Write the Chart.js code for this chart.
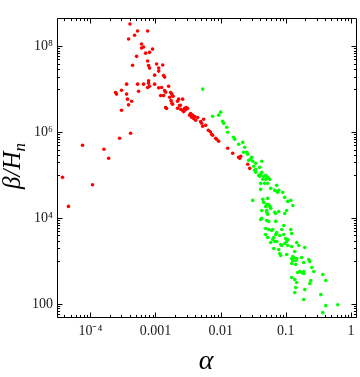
<!DOCTYPE html>
<html>
<head>
<meta charset="utf-8">
<script src="https://cdn.jsdelivr.net/npm/chart.js@4.4.1/dist/chart.umd.min.js"></script>
<style>
  html, body { margin: 0; padding: 0; background: #ffffff; }
  #wrap { width: 360px; height: 377px; position: relative; }
  canvas { display: block; }
</style>
</head>
<body>
<div id="wrap"><canvas id="c" width="360" height="377"></canvas></div>
<script>
// ---- data ----
const redAlpha = [4.06e-4,7.57e-4,5.31e-4,4.78e-4,3.86e-4,6.11e-4,6.56e-4,6.11e-4,9.0e-4,8.1e-4,
  7.05e-4,5.13e-4,7.57e-4,1.04e-3,1.29e-3,4.45e-4,7.83e-4,1.12e-3,8.1e-4,1.12e-3,
  9.7e-4,1.33e-3,1.38e-3,7.83e-4,7.83e-4,3.6e-4,5.31e-4,6.56e-4,9.7e-4,8.1e-4,
  1.59e-3,7.57e-4,1.12e-3,1.24e-3,1.38e-3,3.01e-4,5.5e-4,1.43e-3,2.44e-4,2.52e-4,
  3.6e-4,1.71e-3,1.20e-3,1.33e-3,1.77e-3,1.86e-3,1.65e-3,3.72e-4,2.26e-3,2.61e-3,
  1.73e-3,4.3e-4,2.18e-3,1.79e-3,1.83e-3,3.86e-4,2.34e-3,1.43e-3,1.48e-3,2.97e-3,
  3.11e-3,2.18e-3,2.43e-3,3.01e-4,2.58e-3,2.87e-3,2.70e-3,3.46e-3,3.34e-3,3.72e-3,
  3.99e-3,3.59e-3,4.44e-3,3.85e-3,4.13e-3,5.48e-3,4.93e-3,5.1e-3,5.89e-3,5.3e-3,
  6.47e-3,6.95e-3,7.28e-3,7.53e-3,8.38e-3,8.69e-3,9.31e-3,1.28e-2,1.53e-2,1.89e-2,
  1.96e-2,2.03e-2,2.60e-2,2.79e-2,4.15e-4,2.81e-4,7.59e-5,1.62e-4,1.91e-4,3.74e-5,
  4.62e-5,1.08e-4,2.40e-3,2.80e-3];
const redBeta = [3.34e8,2.29e8,2.29e8,1.83e8,1.49e8,1.14e8,9.7e7,9.2e7,8.7e7,7.3e7,
  7.0e7,5.9e7,4.6e7,3.9e7,3.7e7,3.65e7,3.6e7,3.14e7,3.14e7,2.67e7,
  2.15e7,2.11e7,1.94e7,1.59e7,1.40e7,1.33e7,1.33e7,1.33e7,1.33e7,1.19e7,
  1.19e7,1.11e7,1.09e7,1.11e7,9.4e6,9.6e6,9.1e6,8.65e6,8.5e6,7.8e6,
  7.8e6,8.5e6,7.2e6,7.2e6,7.8e6,6.98e6,6.6e6,5.94e6,5.94e6,5.94e6,
  5.5e6,5.33e6,5.33e6,4.8e6,4.54e6,4.38e6,4.2e6,3.78e6,3.59e6,3.78e6,
  3.59e6,3.66e6,3.47e6,3.29e6,3.29e6,3.34e6,3.05e6,2.74e6,2.52e6,2.52e6,
  2.33e6,2.26e6,2.21e6,2.10e6,1.92e6,2.03e6,1.78e6,1.64e6,1.47e6,1.39e6,
  1.12e6,1.04e6,9.1e5,8.6e5,7.3e5,6.93e5,6.22e5,4.28e5,3.27e5,2.64e5,
  2.50e5,2.78e5,1.81e5,1.46e5,9.6e5,7.3e5,5.02e5,4.06e5,2.50e5,9.0e4,
  1.90e4,6.05e4,4.3e6,3.66e6];

const greenAlpha = [5.30e-3,7.53e-3,9.31e-3,1.00e-2,1.07e-2,1.11e-2,1.24e-2,1.28e-2,1.58e-2,1.64e-2,
  1.89e-2,2.18e-2,2.34e-2,2.25e-2,2.51e-2,2.60e-2,2.99e-2,2.89e-2,2.69e-2,3.45e-2,
  3.21e-2,4.27e-2,3.10e-2,3.45e-2,3.97e-2,3.33e-2,3.45e-2,4.27e-2,4.11e-2,3.84e-2,
  3.97e-2,4.58e-2,4.91e-2,5.27e-2,4.42e-2,4.91e-2,5.66e-2,4.11e-2,4.74e-2,5.27e-2,
  7.25e-2,4.11e-2,5.86e-2,6.75e-2,7.78e-2,7.25e-2,7.51e-2,8.96e-2,9.62e-2,3.10e-2,
  4.42e-2,4.58e-2,5.27e-2,5.46e-2,5.09e-2,5.66e-2,4.91e-2,0.119,0.107,0.128,
  5.86e-2,4.27e-2,5.09e-2,5.09e-2,5.27e-2,6.75e-2,7.0e-2,7.78e-2,0.103,9.62e-2,
  4.27e-2,4.11e-2,5.09e-2,5.46e-2,7.0e-2,9.29e-2,4.91e-2,5.46e-2,6.07e-2,6.29e-2,
  8.65e-2,0.119,7.25e-2,7.0e-2,0.123,4.91e-2,5.27e-2,8.06e-2,9.29e-2,6.52e-2,
  6.29e-2,9.96e-2,0.107,0.103,5.86e-2,6.75e-2,7.25e-2,0.147,8.35e-2,8.65e-2,
  9.62e-2,0.158,0.107,0.123,6.52e-2,7.78e-2,0.195,0.137,0.103,8.35e-2,
  8.06e-2,0.128,0.132,0.147,0.175,0.123,0.225,0.233,0.188,0.128,
  0.142,0.123,0.142,0.250,0.268,0.152,0.164,0.175,0.188,0.188,
  0.369,0.123,0.137,0.147,0.241,0.233,0.410,0.195,0.137,0.344,
  0.188,0.410,0.627,0.369,0.142];
const greenBeta = [1.02e7,2.38e6,2.52e6,2.96e6,1.82e6,1.64e6,1.32e6,1.01e6,7.72e5,6.93e5,
  5.30e5,5.90e5,4.51e5,3.45e5,3.45e5,3.10e5,2.64e5,2.37e5,2.24e5,1.91e5,
  1.63e5,2.13e5,2.13e5,1.38e5,1.54e5,1.31e5,1.18e5,1.18e5,1.06e5,1.00e5,
  9.5e4,9.5e4,1.00e5,9.0e4,8.1e4,8.1e4,8.1e4,6.53e4,6.53e4,6.53e4,
  5.86e4,4.73e4,4.99e4,4.49e4,4.49e4,4.25e4,4.03e4,4.03e4,3.08e4,2.62e4,
  2.77e4,2.35e4,2.92e4,2.11e4,2.11e4,1.90e4,1.90e4,2.62e4,2.48e4,2.00e4,
  1.71e4,1.53e4,1.53e4,1.38e4,1.24e4,1.38e4,1.30e4,1.45e4,1.53e4,1.30e4,
  9970,9440,8950,8490,8490,6840,5820,5520,5230,5520,
  5520,5520,4700,4220,4460,4220,3600,4000,4220,3600,
  3230,3400,3230,2900,2750,2900,2900,2750,2470,2340,
  2610,2340,2340,2220,1990,1890,2100,1690,1440,1370,
  1520,1290,1230,1160,1230,1160,1100,991,938,1040,
  1040,889,843,718,579,548,579,548,579,520,
  493,420,377,321,357,304,357,220,187,168,
  129,93,98,64,245];

const xTickValues = [1e-4, 1e-3, 1e-2, 1e-1, 1];
const xTickLabels = ['10\u207B\u2074', '0.001', '0.01', '0.1', '1'];
const yTickValues = [100, 1e4, 1e6, 1e8];
const yTickLabels = ['100', '10\u2074', '10\u2076', '10\u2078'];
const xTitle = '\u03B1';
const yTitleMain = '\u03B2/H';
const yTitleSub = 'n';

// ---- helpers ----
const pairs = (xs, ys) => xs.map((x, i) => ({ x: x, y: ys[i] }));

// Frame with inward ticks (Mathematica-like frame) + axis titles
const framePlugin = {
  id: 'frame',
  afterDraw(chart) {
    const { ctx, chartArea: a, scales } = chart;
    const xs = scales.x, ys = scales.y;
    ctx.save();
    ctx.strokeStyle = '#000';
    ctx.lineWidth = 1;
    const L = Math.round(a.left) + 0.5, R = Math.round(a.right) - 0.5;
    const T = Math.round(a.top) + 0.5, B = Math.round(a.bottom) - 0.5;
    ctx.beginPath();
    ctx.rect(L, T, R - L, B - T);
    ctx.stroke();

    const major = 5, minor = 2.6;
    ctx.beginPath();
    // x ticks (bottom & top)
    const xMinor = [];
    for (let e = -5; e <= 0; e++) for (let m = 2; m <= 9; m++) xMinor.push(m * Math.pow(10, e));
    const xt = (v, len) => {
      if (v < xs.min || v > xs.max) return;
      const px = Math.round(xs.getPixelForValue(v)) + 0.5;
      ctx.moveTo(px, B); ctx.lineTo(px, B - len);
      ctx.moveTo(px, T); ctx.lineTo(px, T + len);
    };
    xTickValues.forEach(v => xt(v, major));
    xMinor.forEach(v => xt(v, minor));
    // y ticks (left & right)
    const yMinor = [];
    yTickValues.forEach(v => { for (let m = 1; m <= 9; m++) yMinor.push(m * v / 10); });
    const yt = (v, len) => {
      if (v < ys.min || v > ys.max) return;
      const py = Math.round(ys.getPixelForValue(v)) + 0.5;
      ctx.moveTo(L, py); ctx.lineTo(L + len, py);
      ctx.moveTo(R, py); ctx.lineTo(R - len, py);
    };
    yTickValues.forEach(v => yt(v, major));
    yMinor.forEach(v => yt(v, minor));
    ctx.stroke();

    // axis titles
    ctx.fillStyle = '#000';
    ctx.textBaseline = 'alphabetic';
    ctx.font = 'italic 28px "Liberation Serif", serif';
    ctx.textAlign = 'center';
    ctx.fillText(xTitle, (a.left + a.right) / 2 - 1, 369);

    ctx.save();
    ctx.translate(20, 166);
    ctx.rotate(-Math.PI / 2);
    ctx.font = 'italic 25px "Liberation Serif", serif';
    const wMain = ctx.measureText(yTitleMain).width;
    ctx.font = 'italic 17px "Liberation Serif", serif';
    const wSub = ctx.measureText(yTitleSub).width;
    const start = -(wMain + wSub) / 2;
    ctx.textAlign = 'left';
    ctx.font = 'italic 25px "Liberation Serif", serif';
    ctx.fillText(yTitleMain, start, 0);
    ctx.font = 'italic 17px "Liberation Serif", serif';
    ctx.fillText(yTitleSub, start + wMain, 5);
    ctx.restore();
    ctx.restore();
  }
};

const tickFont = { family: '"Liberation Serif", serif', size: 14 };

new Chart(document.getElementById('c'), {
  type: 'scatter',
  data: {
    datasets: [
      { label: 'red', data: pairs(redAlpha, redBeta), backgroundColor: '#ff0000', borderWidth: 0, pointRadius: 1.8, pointHoverRadius: 1.8 },
      { label: 'green', data: pairs(greenAlpha, greenBeta), backgroundColor: '#00ff00', borderWidth: 0, pointRadius: 1.8, pointHoverRadius: 1.8 }
    ]
  },
  options: {
    responsive: false,
    animation: false,
    devicePixelRatio: 1,
    layout: { padding: { top: 18, right: 3, left: 0, bottom: 0 } },
    plugins: { legend: { display: false }, tooltip: { enabled: false } },
    scales: {
      x: {
        type: 'logarithmic',
        min: 3.08e-5, max: 1.236,
        grid: { display: false, drawTicks: false },
        border: { display: false },
        afterBuildTicks: s => { s.ticks = xTickValues.map(v => ({ value: v })); },
        afterFit: s => { s.height = 59; },
        ticks: {
          autoSkip: false, maxRotation: 0, minRotation: 0, padding: 5,
          color: '#1a1a1a', font: tickFont,
          callback: v => { const i = xTickValues.indexOf(v); return i >= 0 ? xTickLabels[i] : ''; }
        }
      },
      y: {
        type: 'logarithmic',
        min: 48, max: 4.6e8,
        grid: { display: false, drawTicks: false },
        border: { display: false },
        afterBuildTicks: s => { s.ticks = yTickValues.map(v => ({ value: v })); },
        afterFit: s => { s.width = 57; },
        ticks: {
          autoSkip: false, padding: 4,
          color: '#1a1a1a', font: tickFont,
          callback: v => { const i = yTickValues.indexOf(v); return i >= 0 ? yTickLabels[i] : ''; }
        }
      }
    }
  },
  plugins: [framePlugin]
});
</script>
</body>
</html>
